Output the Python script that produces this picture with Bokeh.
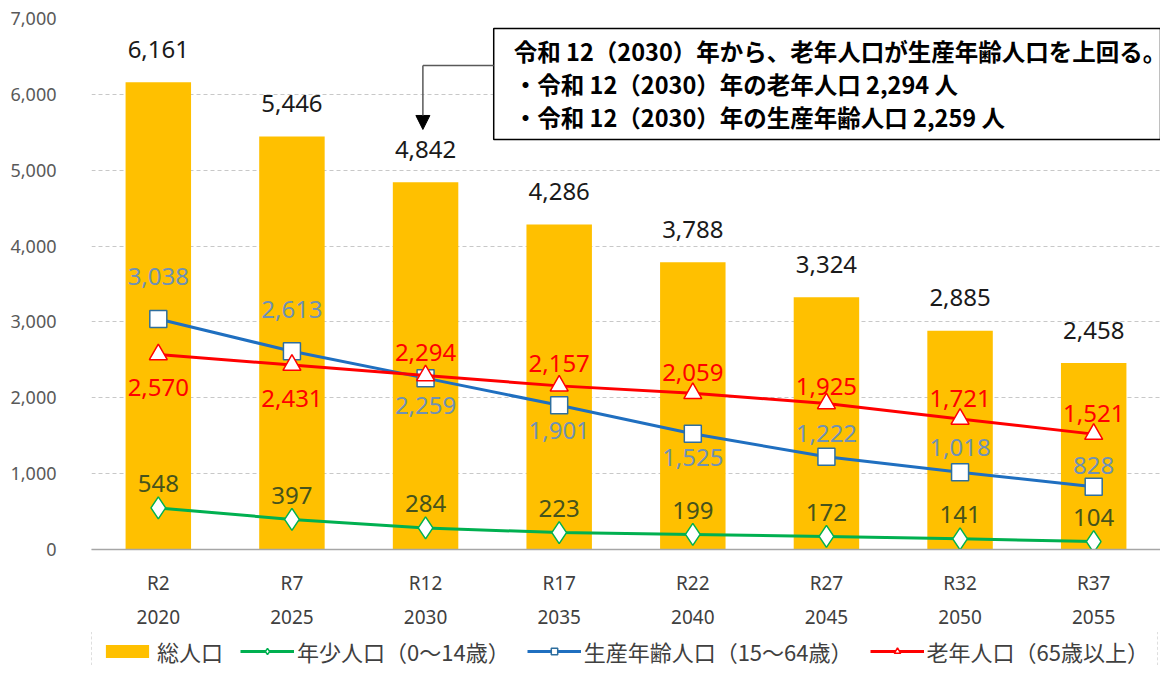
from bokeh.plotting import figure
from bokeh.layouts import column
from bokeh.models import (FactorRange, CategoricalAxis, ColumnDataSource, Legend, LegendItem,
                          Label, LabelSet, BoxAnnotation, Arrow, NormalHead, NumeralTickFormatter,
                          Range1d)
from bokeh.core.properties import value
from bokeh.embed import file_html
from bokeh.resources import INLINE

# ---------------- data ----------------
periods = ["R2", "R7", "R12", "R17", "R22", "R27", "R32", "R37"]
years = ["2020", "2025", "2030", "2035", "2040", "2045", "2050", "2055"]
total = [6161, 5446, 4842, 4286, 3788, 3324, 2885, 2458]
young = [548, 397, 284, 223, 199, 172, 141, 104]
working = [3038, 2613, 2259, 1901, 1525, 1222, 1018, 828]
elderly = [2570, 2431, 2294, 2157, 2059, 1925, 1721, 1521]
y_ticks = [0, 1000, 2000, 3000, 4000, 5000, 6000, 7000]

title_text = "【総人口、年齢３区分別人口の推計】"
legend_labels = ["総人口", "年少人口（0～14歳）", "生産年齢人口（15～64歳）", "老年人口（65歳以上）"]
note_lines = [
    "令和 12（2030）年から、老年人口が生産年齢人口を上回る。",
    f"・令和 12（2030）年の老年人口 {elderly[2]:,} 人",
    f"・令和 12（2030）年の生産年齢人口 {working[2]:,} 人",
]

# ---------------- label placement (px, + = above) ----------------
total_off = [33] * 8
young_off = [24] * 8
working_off = [43, 42, -27, -25, -24, 23, 25, 21]
elderly_off = [-33, -33, 23, 22, 21, 17, 20, 21]

# ---------------- colours ----------------
BAR = "#FFC000"
GREEN = "#00B050"
BLUE = "#1F6FC0"
BLUE_EDGE = "#2E6E9E"
RED = "#FF0000"
JP = "Noto Sans CJK JP"
NUM = "Noto Sans"

src = ColumnDataSource(dict(
    period=periods, total=total, young=young, working=working, elderly=elderly,
    total_lbl=[f"{v:,}" for v in total],
    young_lbl=[f"{v:,}" for v in young],
    working_lbl=[f"{v:,}" for v in working],
    elderly_lbl=[f"{v:,}" for v in elderly],
    total_off=total_off, young_off=young_off, working_off=working_off, elderly_off=elderly_off,
))

p = figure(width=1160, height=632, x_range=FactorRange(*periods), y_range=Range1d(0, 7000),
           output_backend="svg", toolbar_location=None,
           min_border_left=91, min_border_right=0, min_border_top=18, min_border_bottom=83)
p.outline_line_color = None
p.background_fill_color = "white"
p.border_fill_color = "white"
p.extra_x_ranges = {"years": FactorRange(*years)}

# bars
p.vbar(x="period", top="total", width=0.49, source=src, fill_color=BAR, line_color=None)

# lines + markers
p.line(x="period", y="young", source=src, line_color=GREEN, line_width=3)
p.scatter(x="period", y="young", source=src, marker="diamond", size=22,
          fill_color="white", line_color=GREEN, line_width=1.5)
p.line(x="period", y="working", source=src, line_color=BLUE, line_width=3)
p.scatter(x="period", y="working", source=src, marker="square", size=17,
          fill_color="white", line_color=BLUE_EDGE, line_width=1.5)
p.line(x="period", y="elderly", source=src, line_color=RED, line_width=3)
p.scatter(x="period", y="elderly", source=src, marker="triangle", size=18,
          fill_color="white", line_color=RED, line_width=1.5)

# data labels
def labels(field, off, color, size):
    return LabelSet(x="period", y=field, text=field + "_lbl", y_offset=off, source=src,
                    text_align="center", text_baseline="middle", text_color=color,
                    text_font=value(NUM), text_font_size=size)

p.add_layout(labels("total", "total_off", "#1A1A1A", "24px"))
p.add_layout(labels("young", "young_off", "#46531C", "24px"))
p.add_layout(labels("working", "working_off", "#6F91B5", "24px"))
p.add_layout(labels("elderly", "elderly_off", RED, "24px"))

# axes
p.yaxis.ticker = y_ticks
p.yaxis.formatter = NumeralTickFormatter(format="0,0")
p.yaxis.axis_line_color = None
p.yaxis.major_tick_line_color = None
p.yaxis.minor_tick_line_color = None
p.yaxis.major_label_standoff = 29
p.yaxis.major_label_text_font = NUM
p.yaxis.major_label_text_font_size = "18px"
p.yaxis.major_label_text_color = "#595959"

p.xaxis.axis_line_color = "#A6A6A6"
p.xaxis.axis_line_width = 1.5
p.xaxis.major_tick_line_color = None
p.xaxis.major_label_standoff = 14
p.xaxis.major_label_text_font = NUM
p.xaxis.major_label_text_font_size = "19px"
p.xaxis.major_label_text_color = "#404040"

year_axis = CategoricalAxis(x_range_name="years")
year_axis.axis_line_color = None
year_axis.major_tick_line_color = None
year_axis.major_label_standoff = 5
year_axis.major_label_text_font = NUM
year_axis.major_label_text_font_size = "19px"
year_axis.major_label_text_color = "#404040"
p.add_layout(year_axis, "below")

# category boundary ticks
for i in range(len(periods) + 1):
    p.add_layout(Arrow(x_start=i, y_start=0, x_end=i, y_end=-85, end=None,
                       line_color="#A6A6A6", line_width=1.5))

p.xgrid.grid_line_color = None
p.ygrid.grid_line_color = "#C8C8C8"
p.ygrid.grid_line_dash = "4 3"

# title (partly cut off in the reference)
p.add_layout(Label(x=3.64, y=7277, text=title_text, text_align="center", text_baseline="middle",
                   text_font=JP, text_font_size="30px", text_font_style="bold",
                   text_color="#1A1A1A"))

# note box + arrow
p.add_layout(BoxAnnotation(left=3.01, right=8.0, bottom=5405, top=6868, fill_color="white",
                           fill_alpha=1.0, line_color="black", line_width=1.5, line_alpha=1.0))
for t, yy in zip(note_lines, [6578, 6130, 5708]):
    p.add_layout(Label(x=3.16, y=yy, text=t, text_align="left", text_baseline="middle",
                       text_font=JP, text_font_size="23.5px", text_font_style="bold",
                       text_color="black"))
p.add_layout(Arrow(x_start=3.01, y_start=6380, x_end=2.48, y_end=6380, end=None,
                   line_color="#595959", line_width=1.5))
p.add_layout(Arrow(x_start=2.48, y_start=6380, x_end=2.48, y_end=5537,
                   end=NormalHead(size=14, fill_color="black", line_color="black"),
                   line_color="#595959", line_width=1.5))

# ---------------- legend strip (separate small figure) ----------------
# same series, drawn off-range so only their legend swatches show
lg = figure(width=1160, height=33, output_backend="svg", toolbar_location=None,
            x_range=FactorRange(*periods), y_range=Range1d(-2, -1),
            x_axis_type=None, y_axis_type=None,
            min_border_left=0, min_border_right=0, min_border_top=0, min_border_bottom=0)
lg.outline_line_color = None
lg.grid.grid_line_color = None
lg.background_fill_color = "white"
lg.border_fill_color = "white"
r_bar = lg.vbar(x="period", top="total", bottom="total", width=0.49, source=src,
                fill_color=BAR, line_color=None)
r_yl = lg.line(x="period", y="young", source=src, line_color=GREEN, line_width=3)
r_yp = lg.scatter(x="period", y="young", source=src, marker="diamond", size=14,
                  fill_color="white", line_color=GREEN, line_width=1.5)
r_wl = lg.line(x="period", y="working", source=src, line_color=BLUE, line_width=3)
r_wp = lg.scatter(x="period", y="working", source=src, marker="square", size=12,
                  fill_color="white", line_color=BLUE_EDGE, line_width=1.5)
r_el = lg.line(x="period", y="elderly", source=src, line_color=RED, line_width=3)
r_ep = lg.scatter(x="period", y="elderly", source=src, marker="triangle", size=13,
                  fill_color="white", line_color=RED, line_width=1.5)

legend = Legend(items=[
    LegendItem(label=legend_labels[0], renderers=[r_bar]),
    LegendItem(label=legend_labels[1], renderers=[r_yl, r_yp]),
    LegendItem(label=legend_labels[2], renderers=[r_wl, r_wp]),
    LegendItem(label=legend_labels[3], renderers=[r_el, r_ep]),
], orientation="horizontal", location=(0, -11))
legend.label_text_font = JP
legend.label_text_font_size = "22px"
legend.label_text_color = "#404040"
legend.glyph_width = 54
legend.glyph_height = 16
legend.label_standoff = 3
legend.spacing = 17
legend.padding = 8
legend.margin = 0
legend.border_line_color = "#BFBFBF"
legend.border_line_dash = "dotted"
legend.border_line_width = 1.5
legend.background_fill_color = "white"
legend.background_fill_alpha = 1.0
lg.add_layout(legend)

layout = column(p, lg)
open("out.html", "w").write(file_html(layout, INLINE))
